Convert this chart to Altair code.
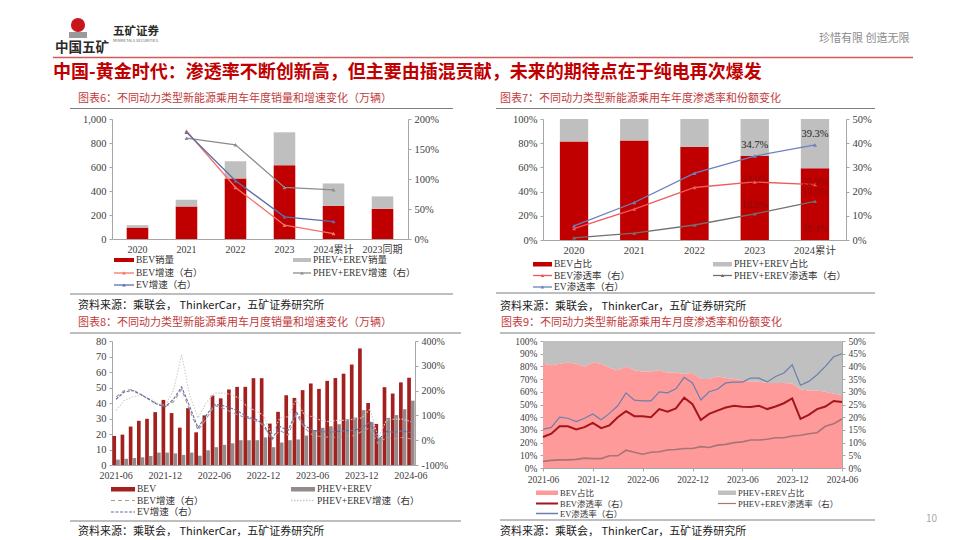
import altair as alt
import pandas as pd

# ---------------- data ----------------
years6 = ["2020", "2021", "2022", "2023", "2024累计", "2023同期"]
bev_sales6 = [95, 271, 505, 615, 277, 252]
phev_sales6 = [20, 56, 143, 274, 186, 103]
bev_growth6 = [None, 1.80, 0.86, 0.23, 0.09, None]
phev_growth6 = [None, 1.68, 1.57, 0.86, 0.82, None]
ev_growth6 = [None, 1.78, 0.97, 0.37, 0.29, None]

years7 = ["2020", "2021", "2022", "2023", "2024累计"]
bev_share7 = [0.815, 0.823, 0.770, 0.695, 0.594]
phev_share7 = [0.185, 0.177, 0.230, 0.305, 0.406]
bev_pen7 = [0.047, 0.128, 0.217, 0.240, 0.229]
phev_pen7 = [0.009, 0.028, 0.062, 0.108, 0.160]
ev_pen7 = [0.058, 0.155, 0.276, 0.347, 0.393]

months = pd.period_range("2021-06", "2024-06", freq="M").strftime("%Y-%m").tolist()
bev8 = [18.7, 19.6, 24.8, 28.5, 29.8, 34.1, 42.0, 33.5, 24.1, 36.7, 21.1, 32.0, 44.8,
        43.0, 48.7, 50.4, 50.4, 56.0, 56.0, 26.7, 34.3, 45.0, 43.3, 48.3, 52.6, 49.1,
        54.3, 56.1, 58.9, 64.8, 75.2, 40.0, 26.5, 50.2, 46.1, 53.3, 56.3]
phev8 = [3.5, 4.0, 4.5, 5.0, 5.8, 8.0, 8.0, 7.5, 6.5, 8.0, 6.0, 9.5, 11.5,
         13.0, 14.0, 16.0, 16.0, 16.0, 17.8, 11.5, 14.5, 16.0, 16.5, 19.0, 22.6, 24.0,
         25.0, 26.3, 29.6, 30.6, 35.4, 27.8, 17.6, 30.4, 32.2, 36.0, 41.5]
bev_g8 = [1.75, 2.00, 2.05, 1.85, 1.65, 1.45, 1.35, 1.55, 2.05, 1.20, 0.40, 0.85, 1.40,
          1.30, 1.15, 1.00, 0.90, 0.80, 0.60, 0.00, 0.40, 0.20, 1.05, 0.50, 0.20, 0.15,
          0.12, 0.12, 0.18, 0.18, 0.35, 0.50, -0.15, 0.12, 0.05, 0.12, 0.05]
phev_g8 = [1.20, 1.60, 1.75, 1.80, 1.70, 1.50, 1.40, 2.00, 3.45, 1.80, 0.90, 1.50, 1.90,
           1.90, 1.85, 1.70, 1.35, 1.20, 1.00, 0.20, 0.90, 0.95, 1.65, 1.00, 0.95, 0.80,
           0.75, 0.80, 0.80, 0.85, 0.90, 1.25, 0.10, 0.80, 0.85, 0.85, 0.75]
ev_g8 = [1.65, 1.95, 2.00, 1.85, 1.65, 1.45, 1.35, 1.65, 2.15, 1.35, 0.50, 1.00, 1.45,
         1.40, 1.30, 1.15, 0.95, 0.85, 0.65, 0.05, 0.55, 0.40, 1.15, 0.60, 0.40, 0.35,
         0.32, 0.35, 0.38, 0.40, 0.47, 0.75, 0.00, 0.35, 0.32, 0.38, 0.30]

bev_share9 = [0.82, 0.81, 0.82, 0.83, 0.82, 0.80, 0.83, 0.82, 0.79, 0.77, 0.80, 0.77, 0.76,
              0.76, 0.77, 0.75, 0.75, 0.74, 0.75, 0.70, 0.70, 0.72, 0.71, 0.70, 0.69, 0.68,
              0.68, 0.67, 0.67, 0.67, 0.665, 0.62, 0.61, 0.61, 0.60, 0.585, 0.575]
ev_pen9 = [0.152, 0.160, 0.200, 0.196, 0.183, 0.196, 0.213, 0.190, 0.215, 0.245, 0.296, 0.267, 0.264,
           0.264, 0.300, 0.296, 0.312, 0.357, 0.335, 0.268, 0.300, 0.310, 0.335, 0.338, 0.338, 0.354,
           0.354, 0.339, 0.360, 0.374, 0.406, 0.326, 0.341, 0.367, 0.400, 0.438, 0.450]
bev_pen9 = [0.122, 0.135, 0.164, 0.164, 0.152, 0.161, 0.178, 0.157, 0.168, 0.200, 0.224, 0.204, 0.204,
            0.200, 0.232, 0.222, 0.235, 0.277, 0.251, 0.189, 0.213, 0.226, 0.238, 0.245, 0.241, 0.240,
            0.245, 0.232, 0.242, 0.255, 0.274, 0.193, 0.209, 0.232, 0.242, 0.264, 0.260]
phev_pen9 = [0.026, 0.030, 0.032, 0.032, 0.034, 0.039, 0.037, 0.037, 0.048, 0.048, 0.070, 0.062, 0.054,
             0.062, 0.064, 0.071, 0.073, 0.077, 0.077, 0.084, 0.081, 0.090, 0.093, 0.100, 0.103, 0.110,
             0.110, 0.113, 0.119, 0.119, 0.126, 0.129, 0.135, 0.139, 0.164, 0.174, 0.193]

main_title = "中国-黄金时代：渗透率不断创新高，但主要由插混贡献，未来的期待点在于纯电再次爆发"
titles = ["图表6：不同动力类型新能源乘用车年度销量和增速变化（万辆）",
          "图表7：不同动力类型新能源乘用车年度渗透率和份额变化",
          "图表8：不同动力类型新能源乘用车月度销量和增速变化（万辆）",
          "图表9：不同动力类型新能源乘用车月度渗透率和份额变化"]
source = "资料来源：乘联会， ThinkerCar，五矿证券研究所"

# ---------------- style ----------------
SERIF = "Liberation Serif, Noto Sans CJK SC"
CJK = "Noto Sans CJK SC"
OFF = 8
D = pd.DataFrame({"d": [0]})
LF = 9.5  # legend font size


def txt(s, x, y, size=10, color="#333333", font=CJK, weight="normal", align="left"):
    return alt.Chart(D).mark_text(text=s, fontSize=size, color=color, font=font, fontWeight=weight,
                                  align=align, baseline="middle").encode(
        x=alt.value(x - OFF), y=alt.value(y - OFF))


def hline(x1, x2, y, color="#808080", width=1.0, dash=None):
    kw = dict(color=color, strokeWidth=width)
    if dash:
        kw["strokeDash"] = dash
    return alt.Chart(D).mark_rule(**kw).encode(x=alt.value(x1 - OFF), x2=alt.value(x2 - OFF), y=alt.value(y - OFF))


def box(x1, x2, y1, y2, color):
    return alt.Chart(D).mark_rect(color=color).encode(
        x=alt.value(x1 - OFF), x2=alt.value(x2 - OFF), y=alt.value(y1 - OFF), y2=alt.value(y2 - OFF))


def tri(x, y, color, size=14):
    return alt.Chart(D).mark_point(shape="triangle-up", filled=True, color=color, size=size, opacity=1).encode(
        x=alt.value(x - OFF), y=alt.value(y - OFF))


def spacer(w, h):
    return alt.Chart(D).mark_point(opacity=0).properties(width=w, height=h)


deco = [
    # header
    alt.Chart(D).mark_point(shape="circle", filled=True, color="#c8161d", size=200, opacity=1).encode(
        x=alt.value(75 - OFF), y=alt.value(24 - OFF)),
    box(66, 84, 31, 37, "#9a9a9a"),
    txt("中国五矿", 52, 47, 13.5, "#2b2b2b", weight="bold"),
    txt("五矿证券", 110, 31, 11.5, "#2b2b2b", weight="bold"),
    txt("MINMETALS SECURITIES", 110, 40, 4, "#666666"),
    txt("珍惜有限  创造无限", 816, 38, 11, "#8c8c8c"),
    hline(50, 910, 56.5, "#d45a5a", 1.5),
    txt(main_title, 50, 72, 18, "#c00000", weight="bold"),
    # panel titles / rules / sources
    txt(titles[0], 75, 97.5, 11, "#c23b3b"),
    txt(titles[1], 497, 97.5, 11, "#c23b3b"),
    txt(titles[2], 75, 322, 11, "#c23b3b"),
    txt(titles[3], 498, 322, 11, "#c23b3b"),
    hline(67, 450, 107.5, "#7f7f7f", 1.2),
    hline(493, 872, 107.5, "#7f7f7f", 1.2),
    hline(67, 458, 332, "#7f7f7f", 1.2),
    hline(497, 872, 332, "#7f7f7f", 1.2),
    hline(67, 450, 293, "#7f7f7f", 1.2),
    hline(493, 872, 292, "#7f7f7f", 1.2),
    hline(67, 458, 520, "#7f7f7f", 1.2),
    hline(497, 872, 519, "#7f7f7f", 1.2),
    txt(source, 75, 305, 11, "#1a1a1a"),
    txt(source, 497, 306, 11, "#1a1a1a"),
    txt(source, 75, 530.5, 11, "#1a1a1a"),
    txt(source, 497, 531, 11, "#1a1a1a"),
    txt("10", 923, 518, 10, "#aaaaaa"),
    # legend chart 6
    box(111, 131, 257, 261, "#c00000"), txt("BEV销量", 133, 259, LF, font=SERIF),
    box(290, 308, 257, 261, "#bfbfbf"), txt("PHEV+EREV销量", 310, 259, LF, font=SERIF),
    hline(111, 131, 272, "#f4736b", 1.3), tri(121, 272, "#f4736b"), txt("BEV增速（右）", 133, 272, LF, font=SERIF),
    hline(290, 308, 272, "#8c8c8c", 1.3), tri(299, 272, "#8c8c8c"), txt("PHEV+EREV增速（右）", 310, 272, LF, font=SERIF),
    hline(111, 131, 284, "#5b70ab", 1.3), tri(121, 284, "#5b70ab"), txt("EV增速（右）", 133, 284, LF, font=SERIF),
    # legend chart 7
    box(530, 549, 261, 265.5, "#c00000"), txt("BEV占比", 551, 263, LF, font=SERIF),
    box(710, 729, 261, 265.5, "#bfbfbf"), txt("PHEV+EREV占比", 731, 263, LF, font=SERIF),
    hline(530, 549, 274.5, "#ee5a5a", 1.3), tri(539.5, 274.5, "#ee5a5a"), txt("BEV渗透率（右）", 551, 274.5, LF, font=SERIF),
    hline(710, 729, 274.5, "#707070", 1.3), tri(719.5, 274.5, "#707070"), txt("PHEV+EREV渗透率（右）", 731, 274.5, LF, font=SERIF),
    hline(530, 549, 286, "#6b80be", 1.3), tri(539.5, 286, "#6b80be"), txt("EV渗透率（右）", 551, 286, LF, font=SERIF),
    # legend chart 8
    box(108, 132, 486, 490.5, "#a3201f"), txt("BEV", 134, 488, LF, font=SERIF),
    box(288, 312, 486, 490.5, "#958a8a"), txt("PHEV+EREV", 314, 488, LF, font=SERIF),
    hline(108, 132, 499.5, "#a89a9a", 1.1, [4, 3]), txt("BEV增速（右）", 134, 499.5, LF, font=SERIF),
    hline(288, 312, 499.5, "#c8c8c8", 1.3, [1.5, 1.5]), txt("PHEV+EREV增速（右）", 314, 499.5, LF, font=SERIF),
    hline(108, 132, 511, "#6070a0", 1.1, [3, 1.5]), txt("EV增速（右）", 134, 511, LF, font=SERIF),
    # legend chart 9
    box(533, 555, 489.5, 494, "#ff9a9a"), txt("BEV占比", 557, 492, 8.5, font=SERIF),
    box(715, 733, 489.5, 494, "#c0c0c0"), txt("PHEV+EREV占比", 735, 492, 8.5, font=SERIF),
    hline(533, 555, 502.5, "#a4161a", 2), txt("BEV渗透率（右）", 557, 502.5, 8.5, font=SERIF),
    hline(715, 733, 502.5, "#a87474", 1.2), txt("PHEV+EREV渗透率（右）", 735, 502.5, 8.5, font=SERIF),
    hline(533, 555, 512.5, "#6b7fad", 1.5), txt("EV渗透率（右）", 557, 512.5, 8.5, font=SERIF),
]
header = alt.layer(*deco).properties(width=1, height=110)

# ---------------- chart 6 ----------------
df6 = pd.DataFrame({"year": years6, "bev": bev_sales6, "phev": phev_sales6,
                    "g_bev": bev_growth6, "g_phev": phev_growth6, "g_ev": ev_growth6})
x6 = alt.X("year:N", sort=years6, title=None,
           scale=alt.Scale(paddingInner=0.56, paddingOuter=0.3),
           axis=alt.Axis(ticks=False, labelAngle=0, labelFontSize=10, labelPadding=5))
bars6 = alt.Chart(df6).transform_fold(["bev", "phev"], as_=["s", "v"]).transform_calculate(
    o="datum.s == 'bev' ? 0 : 1").mark_bar().encode(
    x=x6,
    y=alt.Y("v:Q", stack="zero", title=None, scale=alt.Scale(domain=[0, 1000]),
            axis=alt.Axis(values=[0, 200, 400, 600, 800, 1000], format=",.0f", orient="left", labelFontSize=10.5)),
    color=alt.Color("s:N", scale=alt.Scale(domain=["bev", "phev"], range=["#c00000", "#bfbfbf"]), legend=None),
    order=alt.Order("o:Q"))
lines6 = alt.Chart(df6).transform_fold(["g_bev", "g_phev", "g_ev"], as_=["s", "v"]).transform_filter(
    "isValid(datum.v)").mark_line(
    strokeWidth=1.3, point=alt.OverlayMarkDef(shape="triangle-up", filled=True, size=16)).encode(
    x=x6,
    y=alt.Y("v:Q", title=None, scale=alt.Scale(domain=[0, 2]),
            axis=alt.Axis(values=[0, 0.5, 1, 1.5, 2], format=".0%", orient="right", labelFontSize=10.5)),
    color=alt.Color("s:N", scale=alt.Scale(domain=["g_bev", "g_phev", "g_ev"],
                                           range=["#f4736b", "#8c8c8c", "#5b70ab"]), legend=None))
chart6 = alt.layer(bars6, lines6).resolve_scale(y="independent", color="independent").properties(width=296, height=120)

# ---------------- chart 7 ----------------
df7 = pd.DataFrame({"year": years7, "bev": bev_share7, "phev": phev_share7,
                    "p_bev": bev_pen7, "p_phev": phev_pen7, "p_ev": ev_pen7})
x7 = alt.X("year:N", sort=years7, title=None,
           scale=alt.Scale(paddingInner=0.53, paddingOuter=0.28),
           axis=alt.Axis(ticks=False, labelAngle=0, labelFontSize=10.5, labelPadding=5))
yL7 = alt.Y("v:Q", stack="zero", title=None, scale=alt.Scale(domain=[0, 1]),
            axis=alt.Axis(values=[0, 0.2, 0.4, 0.6, 0.8, 1], format=".0%", orient="left", labelFontSize=10.5))
bars7 = alt.Chart(df7).transform_fold(["bev", "phev"], as_=["s", "v"]).transform_calculate(
    o="datum.s == 'bev' ? 0 : 1").mark_bar().encode(
    x=x7, y=yL7,
    color=alt.Color("s:N", scale=alt.Scale(domain=["bev", "phev"], range=["#c00000", "#bfbfbf"]), legend=None),
    order=alt.Order("o:Q"))
share_lab7 = alt.Chart(df7.iloc[4:]).mark_text(fontSize=10, font=SERIF, color="#8f0a0a").encode(
    x=x7, y=alt.value(110), text=alt.Text("bev:Q", format=".1%"))


def yR7(field):
    return alt.Y(field, title=None, scale=alt.Scale(domain=[0, 0.5]),
                 axis=alt.Axis(values=[0, 0.1, 0.2, 0.3, 0.4, 0.5], format=".0%", orient="right", labelFontSize=10.5))


lines7 = alt.Chart(df7).transform_fold(["p_bev", "p_phev", "p_ev"], as_=["s", "v"]).mark_line(
    strokeWidth=1.3, point=alt.OverlayMarkDef(shape="triangle-up", filled=True, size=16)).encode(
    x=x7, y=yR7("v:Q"),
    color=alt.Color("s:N", scale=alt.Scale(domain=["p_bev", "p_phev", "p_ev"],
                                           range=["#ee5a5a", "#707070", "#6b80be"]), legend=None))
lab_df7 = df7.iloc[3:]
lab_ev7 = alt.Chart(lab_df7).mark_text(dy=-11, fontSize=10.5, font=SERIF, color="#262626").encode(
    x=x7, y=yR7("p_ev:Q"), text=alt.Text("p_ev:Q", format=".1%"))
lab_bev7 = alt.Chart(lab_df7).mark_text(dy=-3, fontSize=10, font=SERIF, color="#8f0a0a").encode(
    x=x7, y=yR7("p_bev:Q"), text=alt.Text("p_bev:Q", format=".1%"))
lab_phev7 = alt.Chart(lab_df7).mark_text(dy=-9, fontSize=10, font=SERIF, color="#8f0a0a").encode(
    x=x7, y=yR7("p_phev:Q"), text=alt.Text("p_phev:Q", format=".1%"))
chart7 = alt.layer(alt.layer(bars7, share_lab7),
                   alt.layer(lines7, lab_ev7, lab_bev7, lab_phev7)).resolve_scale(
    y="independent", color="independent").properties(width=303, height=121)

# ---------------- chart 8 ----------------
df8 = pd.DataFrame({"month": months, "bev": bev8, "phev": phev8,
                    "g_bev": bev_g8, "g_phev": phev_g8, "g_ev": ev_g8})
x8 = alt.X("month:O", sort=months, title=None,
           scale=alt.Scale(paddingInner=0.1, paddingOuter=0.05),
           axis=alt.Axis(values=months[::6], ticks=False, labelAngle=0, labelFontSize=10, labelPadding=5))
bars8 = alt.Chart(df8).transform_fold(["bev", "phev"], as_=["s", "v"]).mark_bar().encode(
    x=x8,
    xOffset=alt.XOffset("s:N", sort=["bev", "phev"], scale=alt.Scale(paddingInner=0)),
    y=alt.Y("v:Q", title=None, scale=alt.Scale(domain=[0, 80]),
            axis=alt.Axis(values=list(range(0, 81, 10)), orient="left", labelFontSize=10.5)),
    color=alt.Color("s:N", scale=alt.Scale(domain=["bev", "phev"], range=["#a3201f", "#958a8a"]), legend=None))
lines8 = alt.Chart(df8).transform_fold(["g_bev", "g_phev", "g_ev"], as_=["s", "v"]).mark_line(
    strokeWidth=1.1).encode(
    x=x8,
    y=alt.Y("v:Q", title=None, scale=alt.Scale(domain=[-1, 4]),
            axis=alt.Axis(values=[-1, 0, 1, 2, 3, 4], labelExpr="round(datum.value*100) + '%'",
                          orient="right", labelFontSize=10)),
    color=alt.Color("s:N", scale=alt.Scale(domain=["g_bev", "g_phev", "g_ev"],
                                           range=["#a89a9a", "#cfcfcf", "#6070a0"]), legend=None),
    strokeDash=alt.StrokeDash("s:N", scale=alt.Scale(domain=["g_bev", "g_phev", "g_ev"],
                                                     range=[[4, 3], [1.5, 1.5], [3, 1.5]]), legend=None))
chart8 = alt.layer(bars8, lines8).resolve_scale(y="independent", color="independent").properties(width=303, height=124)

# ---------------- chart 9 ----------------
df9 = pd.DataFrame({"month": months, "share": bev_share9, "p_bev": bev_pen9, "p_phev": phev_pen9, "p_ev": ev_pen9})
x9 = alt.X("month:O", sort=months, title=None, scale=alt.Scale(type="point", padding=0),
           axis=alt.Axis(values=months[::6], labelAngle=0, labelFontSize=9.5, labelPadding=3))
yL9 = alt.Y("share:Q", title=None, scale=alt.Scale(domain=[0, 1]),
            axis=alt.Axis(values=[i / 10 for i in range(11)], format=".0%", orient="left", labelFontSize=9.5))
gray9 = alt.Chart(df9).transform_calculate(top="1").mark_area(color="#c0c0c0", opacity=1).encode(
    x=x9, y=yL9, y2="top:Q")
pink9 = alt.Chart(df9).mark_area(color="#ff9a9a", opacity=1).encode(x=x9, y=yL9)
lines9 = alt.Chart(df9).transform_fold(["p_bev", "p_phev", "p_ev"], as_=["s", "v"]).mark_line().encode(
    x=x9,
    y=alt.Y("v:Q", title=None, scale=alt.Scale(domain=[0, 0.5]),
            axis=alt.Axis(values=[i * 0.05 for i in range(11)], format=".0%", orient="right", labelFontSize=9.5)),
    color=alt.Color("s:N", scale=alt.Scale(domain=["p_bev", "p_phev", "p_ev"],
                                           range=["#a4161a", "#a87474", "#6b7fad"]), legend=None),
    strokeWidth=alt.StrokeWidth("s:N", scale=alt.Scale(domain=["p_bev", "p_phev", "p_ev"], range=[2, 1.2, 1.6]),
                                legend=None))
chart9 = alt.layer(alt.layer(gray9, pink9), lines9).resolve_scale(
    y="independent", color="independent").properties(width=299, height=127)

# ---------------- layout (flow grid, flush bounds) ----------------
cells = [
    header, spacer(1, 110), spacer(1, 110), spacer(1, 110),
    spacer(101, 1), chart6, spacer(125, 1), chart7,
    spacer(1, 101), spacer(1, 101), spacer(1, 101), spacer(1, 101),
    spacer(94, 1), chart8, spacer(128, 1), chart9,
]
page = alt.concat(*cells, columns=4, spacing=0, bounds="flush", align="none").properties(
    padding=0, background="white"
).configure_view(stroke="transparent").configure_axis(
    labelFont=SERIF, labelColor="#404040", domainColor="#a6a6a6", tickColor="#a6a6a6",
    grid=False, tickSize=3, labelPadding=3)

page.save("out.html", embed_options={"renderer": "svg", "actions": False})
